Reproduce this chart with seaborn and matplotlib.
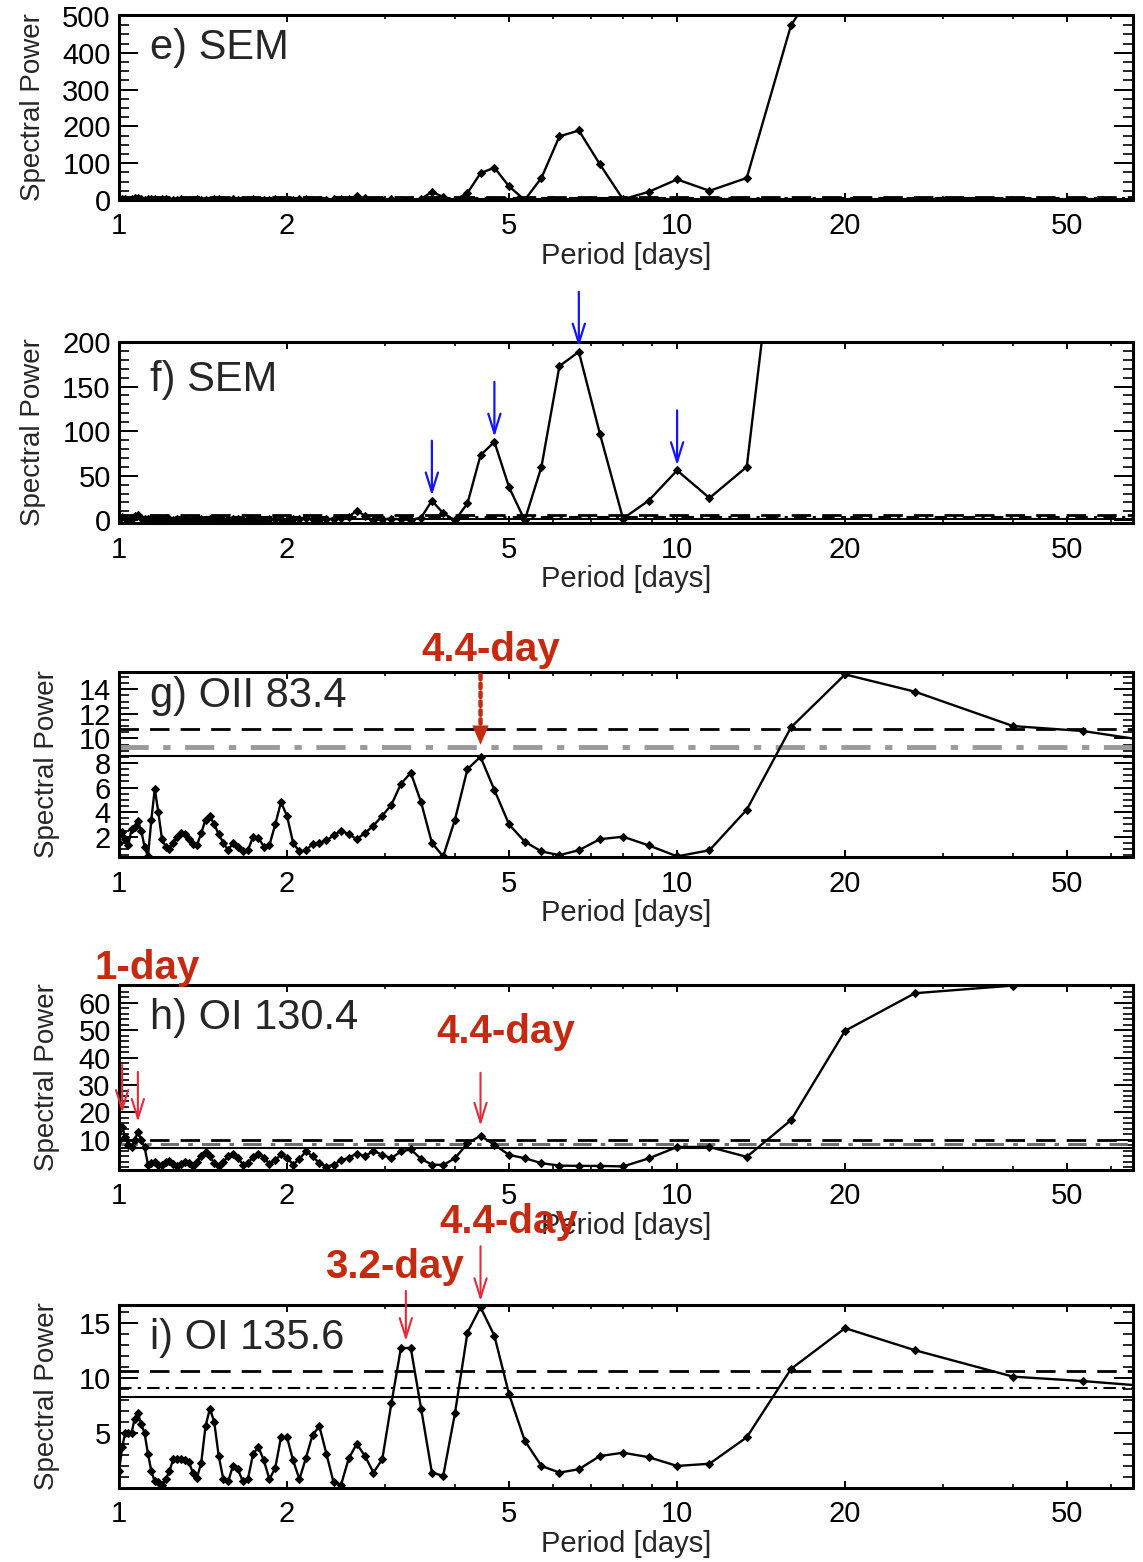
import numpy as np
import pandas as pd
import matplotlib
matplotlib.use("Agg")
import matplotlib.pyplot as plt
from matplotlib.ticker import FixedLocator, FixedFormatter, NullFormatter, MultipleLocator
import seaborn as sns

# ---------------------------------------------------------------- data
# Periodogram sampling (days), short to long periods
PERIOD_DAYS = [
    1.000, 1.013, 1.026, 1.039, 1.053, 1.067, 1.081, 1.096, 1.111, 1.127,
    1.143, 1.159, 1.176, 1.194, 1.212, 1.231, 1.250, 1.270, 1.290, 1.311,
    1.333, 1.356, 1.379, 1.404, 1.429, 1.455, 1.481, 1.509, 1.538, 1.569,
    1.600, 1.633, 1.667, 1.702, 1.739, 1.778, 1.818, 1.860, 1.905, 1.951,
    2.000, 2.051, 2.105, 2.162, 2.222, 2.286, 2.353, 2.424, 2.500, 2.581,
    2.667, 2.759, 2.857, 2.963, 3.077, 3.200, 3.333, 3.478, 3.636, 3.810,
    4.000, 4.211, 4.444, 4.706, 5.000, 5.333, 5.714, 6.154, 6.667, 7.273,
    8.000, 8.889, 10.00, 11.43, 13.33, 16.00, 20.00, 26.67, 40.00,
    53.33, 80.00,
]

nan = np.nan
SEM_POWER = [
    2, 4, 3, 1, 2, 5, 6, 3, 1, 2,
    3, 2, 1, 2, 3, 1, 0.5, 1, 2, 1,
    0.5, 1, 2, 1, 0.5, 1, 2, 1.5, 0.5, 1,
    2, 1, 0.5, 1, 1.5, 1, 0.5, 1, 2, 1,
    0.5, 1, 2, 3, 1, 0.5, 1, 2, 3, 4,
    11, 5, 0, 1, 2, 1, 0.5, 3, 22, 8,
    0, 19, 73, 88, 37, 0, 60, 173, 189, 97,
    2, 22, 56, 25, 60, 475, 700, nan, nan,
    nan, nan,
]
OII_834_POWER = [
    1.5, 2.4, 1.8, 1.3, 2.6, 2.8, 3.3, 2.5, 1.2, 0.4,
    3.4, 5.9, 4.0, 1.8, 1.2, 1.0, 1.5, 2.0, 2.3, 2.2,
    1.8, 1.4, 1.3, 2.3, 3.4, 3.7, 3.0, 2.2, 1.5, 0.9,
    1.5, 1.2, 0.8, 0.9, 2.0, 1.9, 1.2, 1.3, 3.0, 4.8,
    3.7, 1.5, 0.8, 0.9, 1.4, 1.5, 1.7, 2.1, 2.5, 2.2,
    1.8, 2.3, 2.9, 3.7, 4.6, 6.3, 7.2, 4.8, 1.5, 0.4,
    3.4, 7.5, 8.5, 5.8, 3.0, 1.6, 0.8, 0.5, 0.9, 1.8,
    2.0, 1.3, 0.4, 0.9, 4.2, 10.9, 15.2, 13.8, 11.0,
    10.6, 9.4,
]
OI_1304_POWER = [
    10, 14.7, 11, 8, 7.4, 10, 12.9, 10, 7.4, 1.0,
    1.5, 2.0, 1.0, 0.8, 1.8, 2.2, 1.2, 0.6, 1.2, 2.0,
    1.5, 0.6, 2.0, 4.2, 5.6, 4.0, 1.5, 0.6, 2.0, 4.0,
    5.0, 3.5, 1.0, 1.5, 3.8, 5.0, 3.5, 1.2, 2.5, 4.7,
    3.5, 1.0, 3.0, 5.8, 4.0, 1.5, 0.2, 1.0, 2.5, 3.5,
    5.0, 4.0, 6.0, 4.5, 3.3, 5.8, 6.5, 3.0, 1.0, 0.8,
    3.3, 8.7, 11.5, 8.2, 4.5, 3.3, 1.5, 0.6, 0.5, 0.5,
    0.3, 3.2, 7.4, 7.4, 3.8, 17.2, 49.8, 63.5, 66.3,
    72, nan,
]
OI_1356_POWER = [
    1.5, 3.7, 5.0, 5.0, 5.0, 6.3, 6.8, 5.8, 5.0, 3.1,
    1.5, 0.6, 0.5, 0.3, 0.8, 1.5, 2.6, 2.6, 2.6, 2.5,
    2.4, 1.4, 0.9, 2.3, 5.6, 7.2, 6.0, 2.9, 0.8, 0.6,
    2.0, 1.7, 0.6, 0.8, 3.1, 3.7, 2.5, 0.8, 1.8, 4.6,
    4.6, 2.5, 0.8, 2.7, 4.8, 5.6, 3.1, 0.5, 0.3, 2.7,
    4.0, 2.9, 1.4, 2.6, 7.7, 12.7, 12.7, 7.2, 1.4, 1.1,
    6.8, 14.1, 16.4, 13.8, 8.5, 4.3, 2.0, 1.4, 1.7, 2.9,
    3.2, 2.8, 2.0, 2.2, 4.6, 10.8, 14.5, 12.5, 10.1,
    9.7, 9.0,
]

PANEL_TITLES = ["e) SEM", "f) SEM", "g) OII 83.4", "h) OI 130.4", "i) OI 135.6"]
PANEL_POWER = [SEM_POWER, SEM_POWER, OII_834_POWER, OI_1304_POWER, OI_1356_POWER]

# significance levels drawn as horizontal reference lines
LEVEL_DASHED = [7, 6, 10.8, 10.0, 10.6]
LEVEL_DASHDOT = [5, 4, 9.3, 8.5, 9.1]
LEVEL_SOLID = [3, 2, 8.6, 7.0, 8.3]

Y_LIMITS = [(0, 503), (-3, 200), (0.35, 15.4), (-1, 66.5), (0, 16.6)]
Y_MAJOR = [[0, 100, 200, 300, 400, 500], [0, 50, 100, 150, 200],
           [2, 4, 6, 8, 10, 12, 14], [10, 20, 30, 40, 50, 60], [5, 10, 15]]
Y_MINOR_STEP = [25, 10, 0.5, 2, 1]

X_TICKS = [1, 2, 5, 10, 20, 50]
X_TICK_LABELS = ["1", "2", "5", "10", "20", "50"]
X_MINOR = [3, 4, 6, 7, 8, 9, 30, 40, 60]
X_LIMITS = (1.0, 65.6)

# periods flagged in the SEM spectrum and the airglow spectra
SEM_MARKED = [3.636, 4.706, 6.667, 10.00]
OII_MARKED = 4.444
OI1304_MARKED = [1.013, 1.081, 4.444]
OI1356_MARKED_PAIR = [3.200, 3.333]
OI1356_MARKED = 4.444

# ---------------------------------------------------------------- style
sns.set_theme(style="ticks")
plt.rcParams["font.family"] = ["Liberation Sans", "DejaVu Sans"]
plt.rcParams["axes.linewidth"] = 2.2

TEXT_RED = "#c52a10"
ARROW_RED = "#e62a3c"
BLUE = "#1414ff"
TICK_FONT = 21
SANS = ["Liberation Sans", "DejaVu Sans"]

W, H = 1143, 1562
fig = plt.figure(figsize=(W / 100, H / 100), dpi=100)
fig.patch.set_facecolor("white")

# panel frames in pixel rows (top, bottom)
PANEL_ROWS = [(15, 200), (342, 523), (672, 857), (985, 1170), (1305, 1488)]
LEFT_PX, RIGHT_PX = 119, 1133
TITLE_Y = [0.82, 0.79, 0.87, 0.82, 0.82]
YLABEL_X = [-0.072, -0.072, -0.058, -0.058, -0.058]
DASHDOT_COLOR = ["black", "black", "#9a9a9a", "#707070", "black"]
DASHDOT_LW = [1.5, 1.5, 3.5, 2.2, 1.5]

axes = []
for i, (top, bot) in enumerate(PANEL_ROWS):
    ax = fig.add_axes([LEFT_PX / W, 1 - bot / H, (RIGHT_PX - LEFT_PX) / W, (bot - top) / H])
    axes.append(ax)
    df = pd.DataFrame({"period": PERIOD_DAYS, "power": PANEL_POWER[i]}).dropna()
    sns.lineplot(data=df, x="period", y="power", ax=ax, color="black", lw=1.7,
                 marker="D", markersize=4.2, markeredgecolor="black",
                 estimator=None, sort=False, zorder=3)
    ax.axhline(LEVEL_DASHED[i], color="black", lw=2.0, ls=(0, (7, 4)), zorder=2)
    ax.axhline(LEVEL_DASHDOT[i], color=DASHDOT_COLOR[i], lw=DASHDOT_LW[i],
               ls=(0, (6, 3, 1.5, 3)), zorder=2)
    ax.axhline(LEVEL_SOLID[i], color="black", lw=1.5, zorder=2)

    ax.set_xscale("log")
    ax.set_xlim(*X_LIMITS)
    ax.set_ylim(*Y_LIMITS[i])
    ax.xaxis.set_major_locator(FixedLocator(X_TICKS))
    ax.xaxis.set_major_formatter(FixedFormatter(X_TICK_LABELS))
    ax.xaxis.set_minor_locator(FixedLocator(X_MINOR))
    ax.xaxis.set_minor_formatter(NullFormatter())
    ax.yaxis.set_major_locator(FixedLocator(Y_MAJOR[i]))
    ax.yaxis.set_minor_locator(MultipleLocator(Y_MINOR_STEP[i]))
    ax.tick_params(axis="both", which="both", direction="in", top=True, right=True,
                   colors="black")
    ax.tick_params(axis="x", which="major", length=5, width=1.4, labelsize=TICK_FONT, pad=9)
    ax.tick_params(axis="x", which="minor", length=3, width=1.2)
    ax.tick_params(axis="y", which="major", length=14, width=1.4, labelsize=TICK_FONT, pad=6)
    ax.tick_params(axis="y", which="minor", length=7, width=1.2)
    for sp in ax.spines.values():
        sp.set_visible(True)
        sp.set_linewidth(2.2)
        sp.set_color("black")

    ax.set_xlabel("Period [days]", fontsize=21, labelpad=1)
    ax.set_ylabel("Spectral Power", fontsize=20, family=SANS)
    ax.yaxis.set_label_coords(YLABEL_X[i], 0.5)
    ax.text(0.031, TITLE_Y[i], PANEL_TITLES[i], transform=ax.transAxes,
            fontsize=30, family=SANS, ha="left", va="center")
    ax.set_facecolor("white")


def point_arrow(ax, x, y, length_px, gap_px, color, lw=1.6):
    ax.annotate("", xy=(x, y), xycoords="data",
                xytext=(0, length_px + gap_px), textcoords="offset pixels",
                arrowprops=dict(arrowstyle="->,head_length=0.7,head_width=0.22",
                                color=color, lw=lw, shrinkA=0,
                                shrinkB=gap_px * 0.72, mutation_scale=20),
                annotation_clip=False, zorder=6)


def red_label(ax, x, text, dx, dy):
    ax.annotate(text, xy=(x, 1.0), xycoords=("data", "axes fraction"),
                xytext=(dx, dy), textcoords="offset pixels", ha="center", va="center",
                fontsize=29, fontweight="bold", color=TEXT_RED, family=SANS,
                annotation_clip=False, zorder=7)


# f) SEM: blue arrows over the flagged peaks
sem_lookup = dict(zip(PERIOD_DAYS, SEM_POWER))
for p in SEM_MARKED:
    point_arrow(axes[1], p, sem_lookup[p], 55, 5, BLUE, lw=1.6)

# g) OII 83.4: dotted arrow with solid head onto the 4.4-day peak
oii_lookup = dict(zip(PERIOD_DAYS, OII_834_POWER))
gy = oii_lookup[OII_MARKED]
axes[2].annotate("", xy=(OII_MARKED, gy), xytext=(0, 82), textcoords="offset pixels",
                 arrowprops=dict(arrowstyle="-", ls=(0, (1, 1)), lw=3.2, color=TEXT_RED,
                                 shrinkA=0, shrinkB=30 * 0.72),
                 annotation_clip=False, zorder=6)
axes[2].annotate("", xy=(OII_MARKED, gy), xytext=(0, 34), textcoords="offset pixels",
                 arrowprops=dict(arrowstyle="-|>,head_length=1.3,head_width=0.55",
                                 lw=0.5, color=TEXT_RED, fc=TEXT_RED,
                                 shrinkA=0, shrinkB=12 * 0.72, mutation_scale=10),
                 annotation_clip=False, zorder=6)
red_label(axes[2], OII_MARKED, "4.4-day", 10, 22)

# h) OI 130.4
oi4_lookup = dict(zip(PERIOD_DAYS, OI_1304_POWER))
point_arrow(axes[3], OI1304_MARKED[0], oi4_lookup[OI1304_MARKED[0]], 48, 14, ARROW_RED, lw=1.5)
point_arrow(axes[3], OI1304_MARKED[1], oi4_lookup[OI1304_MARKED[1]], 50, 10, ARROW_RED, lw=1.5)
point_arrow(axes[3], OI1304_MARKED[2], oi4_lookup[OI1304_MARKED[2]], 53, 10, ARROW_RED, lw=1.5)
red_label(axes[3], OI1304_MARKED[0], "1-day", 25, 17)
red_label(axes[3], OI1304_MARKED[2], "4.4-day", 25, -47)

# i) OI 135.6
oi6_lookup = dict(zip(PERIOD_DAYS, OI_1356_POWER))
pair_x = float(np.sqrt(OI1356_MARKED_PAIR[0] * OI1356_MARKED_PAIR[1]))
pair_y = max(oi6_lookup[p] for p in OI1356_MARKED_PAIR)
point_arrow(axes[4], pair_x, pair_y, 50, 7, ARROW_RED, lw=1.5)
point_arrow(axes[4], OI1356_MARKED, oi6_lookup[OI1356_MARKED], 55, 6, ARROW_RED, lw=1.5)
red_label(axes[4], pair_x, "3.2-day", -11, 38)
red_label(axes[4], OI1356_MARKED, "4.4-day", 28, 83)

fig.savefig("out.png", dpi=100, facecolor="white")
